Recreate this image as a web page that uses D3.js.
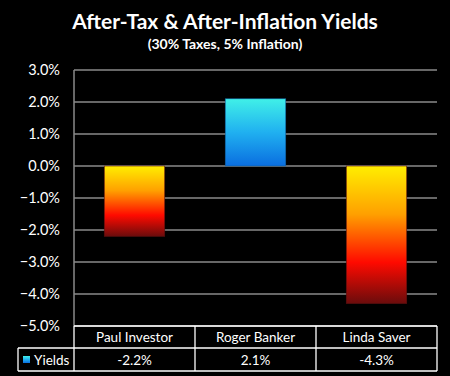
<!DOCTYPE html>
<html><head><meta charset="utf-8">
<script src="https://cdn.jsdelivr.net/npm/d3@7"></script>
<style>html,body{margin:0;padding:0;background:#000;}svg{display:block;}</style>
</head><body>
<script>
const categories = ["Paul Investor", "Roger Banker", "Linda Saver"];
const values = [-2.2, 2.1, -4.3];
const valueLabels = ["-2.2%", "2.1%", "-4.3%"];
const yTicks = [3, 2, 1, 0, -1, -2, -3, -4, -5];
const seriesName = "Yields";
const title = "After-Tax & After-Inflation Yields";
const subtitle = "(30% Taxes, 5% Inflation)";

(function () {
const W = 450, H = 376;
const pL = 74, pR = 437, pT = 70, pB = 326;
const font = "Lato, 'Open Sans', sans-serif";

const svg = d3.select("body").append("svg").attr("width", W).attr("height", H);
svg.append("rect").attr("width", W).attr("height", H).attr("fill", "#000");

const defs = svg.append("defs");
const gNeg = defs.append("linearGradient").attr("id", "neg").attr("x1", 0).attr("y1", 0).attr("x2", 0).attr("y2", 1);
[[0, "#ffee00"], [0.35, "#ffa000"], [0.7, "#ff0a00"], [1, "#6a0c0c"]].forEach(([o, c]) =>
  gNeg.append("stop").attr("offset", o).attr("stop-color", c));
const gPos = defs.append("linearGradient").attr("id", "pos").attr("x1", 0).attr("y1", 0).attr("x2", 0).attr("y2", 1);
[[0, "#40f0e8"], [0.5, "#20b0f0"], [1, "#0a6ee0"]].forEach(([o, c]) =>
  gPos.append("stop").attr("offset", o).attr("stop-color", c));

const x = d3.scaleBand().domain(categories).range([pL, pR]).paddingInner(0).paddingOuter(0);
const y = d3.scaleLinear().domain([-5, 3]).range([pB, pT]);

svg.append("text").attr("x", 225).attr("y", 29).attr("text-anchor", "middle")
  .attr("fill", "#fff").attr("font-family", font).attr("font-weight", "bold").attr("font-size", 21).text(title);
svg.append("text").attr("x", 225).attr("y", 49).attr("text-anchor", "middle")
  .attr("fill", "#fff").attr("font-family", font).attr("font-weight", "bold").attr("font-size", 14).text(subtitle);

svg.append("g").selectAll("line").data(yTicks).join("line")
  .attr("x1", pL).attr("x2", pR).attr("y1", d => y(d)).attr("y2", d => y(d))
  .attr("stroke", "#8a8a8a").attr("stroke-width", 1.5);
svg.append("line").attr("x1", pL).attr("x2", pL).attr("y1", pT).attr("y2", pB)
  .attr("stroke", "#8a8a8a").attr("stroke-width", 1.5);

const yAxis = d3.axisLeft(y).tickValues(yTicks).tickSize(0).tickPadding(14).tickFormat(d => d3.format(".1f")(d) + "%");
const ya = svg.append("g").attr("transform", `translate(${pL},0)`).call(yAxis);
ya.select(".domain").remove();
ya.selectAll("text").attr("fill", "#fff").attr("font-family", font).attr("font-size", 14.5);

const bw = x.bandwidth() * 0.5;
svg.append("g").selectAll("rect").data(values).join("rect")
  .attr("x", (d, i) => x(categories[i]) + (x.bandwidth() - bw) / 2)
  .attr("width", bw)
  .attr("y", d => y(Math.max(0, d)))
  .attr("height", d => Math.abs(y(d) - y(0)))
  .attr("fill", d => d < 0 ? "url(#neg)" : "url(#pos)")
  .attr("stroke", d => d < 0 ? "#5a1010" : "#1060a0").attr("stroke-width", 0.6);

const rowMid = 348, tBottom = 371, legLeft = 18;
const tg = svg.append("g").attr("fill", "none").attr("stroke", "#fff").attr("stroke-width", 1.3);
tg.append("line").attr("x1", pL).attr("x2", pR).attr("y1", pB).attr("y2", pB);
tg.append("line").attr("x1", legLeft).attr("x2", pR).attr("y1", rowMid).attr("y2", rowMid);
tg.append("line").attr("x1", legLeft).attr("x2", pR).attr("y1", tBottom).attr("y2", tBottom);
tg.append("line").attr("x1", legLeft).attr("x2", legLeft).attr("y1", rowMid).attr("y2", tBottom);
const seps = categories.map(c => x(c)).concat([pR]);
tg.selectAll("line.sep").data(seps).join("line").attr("class", "sep")
  .attr("x1", d => d).attr("x2", d => d).attr("y1", pB).attr("y2", tBottom);

svg.append("g").selectAll("text").data(categories).join("text")
  .attr("x", d => x(d) + x.bandwidth() / 2).attr("y", 342).attr("text-anchor", "middle")
  .attr("fill", "#fff").attr("font-family", font).attr("font-size", 13.5).text(d => d);
svg.append("g").selectAll("text").data(valueLabels).join("text")
  .attr("x", (d, i) => x(categories[i]) + x.bandwidth() / 2).attr("y", 365).attr("text-anchor", "middle")
  .attr("fill", "#fff").attr("font-family", font).attr("font-size", 13.5).text(d => d);

svg.append("rect").attr("x", 23).attr("y", 356).attr("width", 7).attr("height", 7).attr("fill", "url(#pos)");
svg.append("text").attr("x", 34).attr("y", 365).attr("fill", "#fff").attr("font-family", font)
  .attr("font-size", 13.5).text(seriesName);
})();
</script>
</body></html>
